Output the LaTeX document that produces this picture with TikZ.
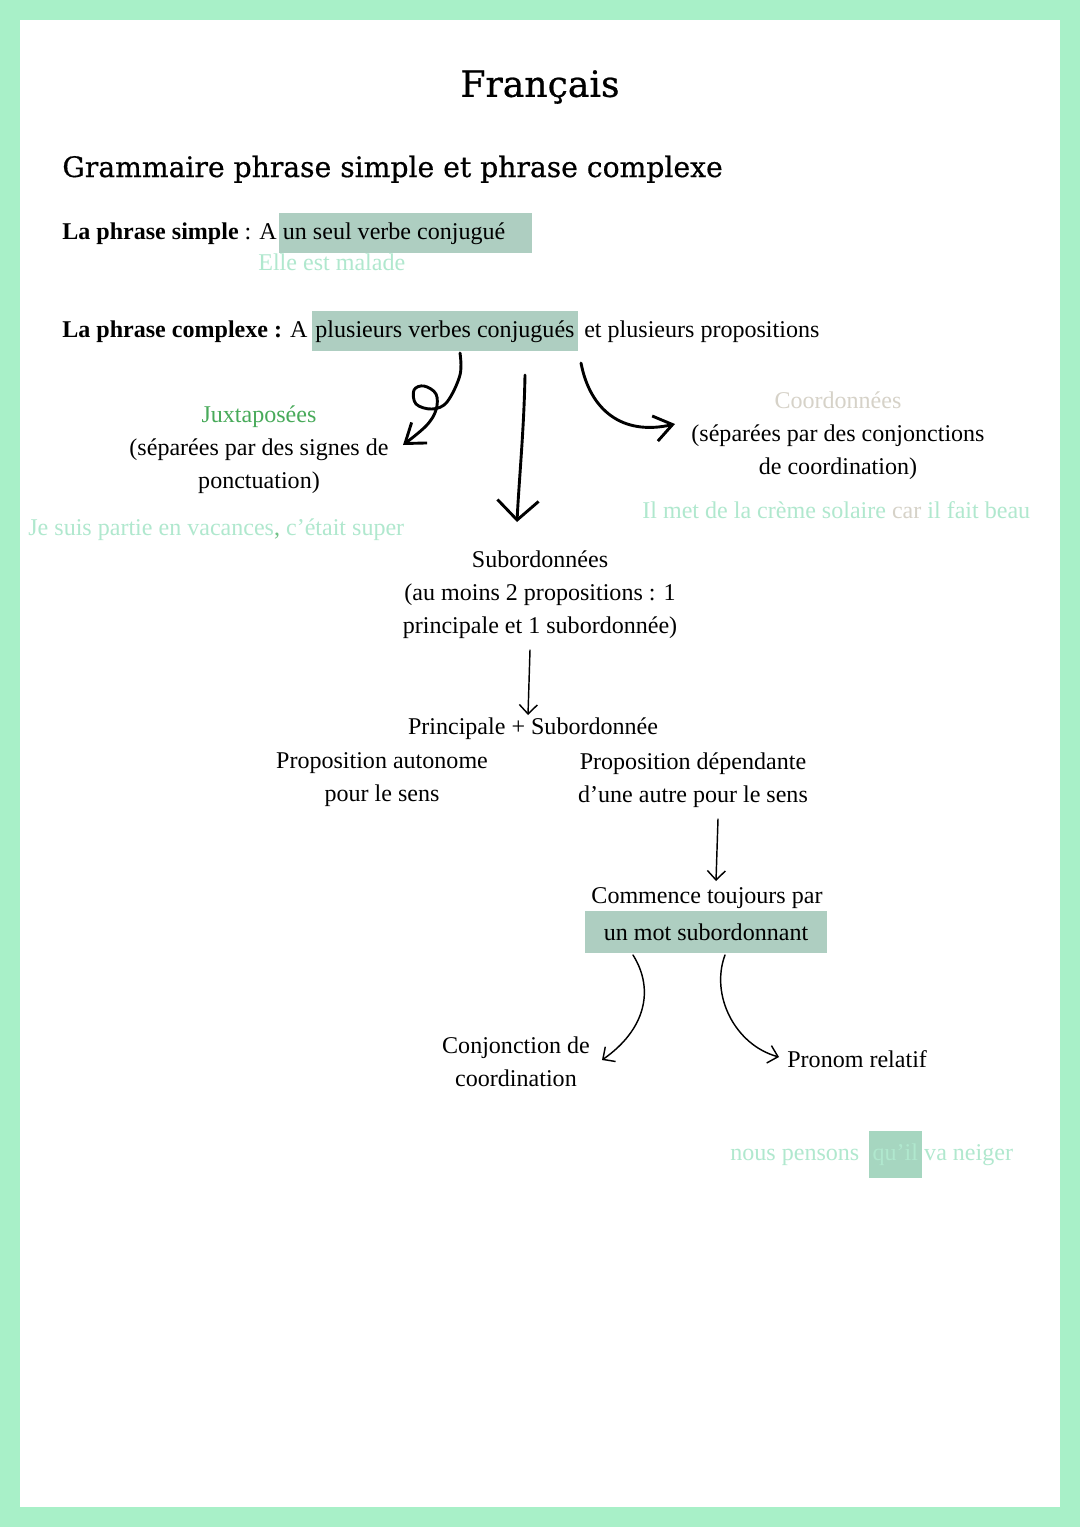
\documentclass[tikz,border=0pt]{standalone}
\usepackage{fontspec}
\setmainfont{Liberation Serif}
\newfontfamily\headfont[FakeBold=0.6]{DejaVu Serif}
\usetikzlibrary{arrows.meta,positioning}

\definecolor{pageframe}{RGB}{168,240,200}
\definecolor{hlgreen}{RGB}{174,206,193}
\definecolor{mint}{RGB}{176,232,206}
\definecolor{juxgreen}{RGB}{72,170,90}
\definecolor{coordgray}{RGB}{214,210,200}
\definecolor{quilhl}{RGB}{166,214,192}
\newcommand\bodyfont{\fontsize{13.3}{18.2}\selectfont}

\begin{document}
\begin{tikzpicture}[
  x=0.019444cm, y=-0.019444cm,
  every node/.style={font=\bodyfont, inner sep=0pt},
  bloc/.style={align=center},
  hl/.style={fill=hlgreen, inner xsep=2pt, inner ysep=5pt},
  exemple/.style={text=mint},
  bigarrow/.style={line width=1.6pt, line cap=round, -{Straight Barb[length=3.5mm,width=5mm]}},
  thinarrow/.style={line width=0.8pt, line cap=round, -{Straight Barb[length=1.8mm,width=3.5mm]}}
]

% page
\fill[pageframe] (0,0) rectangle (1080,1527);
\fill[white] (20,20) rectangle (1060,1507);

% titres
\node[font=\headfont\fontsize{20}{24}\selectfont] (titre) at (540,87) {Français};
\node[font=\headfont\fontsize{15.6}{20}\selectfont, anchor=base west] (sujet) at (62,177) {Grammaire phrase simple et phrase complexe};

% phrase simple
\node[anchor=base west] (simple) at (62,239) {\textbf{La phrase simple} : A};
\node[hl, anchor=base west, xshift=1pt] (seul) at (simple.base east) {un seul verbe conjugué\rule{13pt}{0pt}};
\node[exemple, anchor=base west] (malade) at (258,270) {Elle est malade};

% phrase complexe
\node[anchor=base west] (complexe) at (62,337) {\textbf{La phrase complexe :} A};
\node[hl, anchor=base west, xshift=2pt] (verbes) at (complexe.base east) {plusieurs verbes conjugués};
\node[anchor=base west, xshift=3pt] (props) at (verbes.base east) {et plusieurs propositions};

% juxtaposees
\node[bloc] (juxta) at (259,450) {\textcolor{juxgreen}{Juxtaposées}\\(séparées par des signes de\\ponctuation)};
\node[exemple, anchor=base west] (vacances) at (28,535) {Je suis partie en vacances\textcolor{juxgreen!60!mint}{,} c'était super};

% coordonnees
\node[bloc] (coord) at (838,436) {\textcolor{coordgray}{Coordonnées}\\(séparées par des conjonctions\\de coordination)};
\node[exemple, anchor=base west] (creme) at (642,518) {Il met de la crème solaire \textcolor{coordgray}{car} il fait beau};

% subordonnees
\node[bloc] (subord) at (540,595) {Subordonnées\\(au moins 2 propositions : 1\\principale et 1 subordonnée)};
\node (princ) at (533,729) {Principale + Subordonnée};
\node[bloc] (autonome) at (382,780) {Proposition autonome\\pour le sens};
\node[bloc] (dependante) at (693,780) {Proposition dépendante\\d'une autre pour le sens};
\node (commence) at (707,898) {Commence toujours par};
\node[hl, minimum width=4.72cm, minimum height=0.8cm] (motsub) at (706,932) {un mot subordonnant};
\node[bloc] (conj) at (516,1062) {Conjonction de\\coordination};
\node[anchor=west] (pronom) at (787,1059) {Pronom relatif};

% exemple subordonnee
\node[exemple, anchor=base west] (pensons) at (730,1160) {nous pensons};
\node[hl, fill=quilhl, exemple, anchor=base west, xshift=5pt, inner ysep=7pt] (quil) at (pensons.base east) {qu'il};
\node[exemple, anchor=base west, xshift=1pt] (neiger) at (quil.base east) {va neiger};

% fleches
\coordinate (jx0) at (460,353);
\coordinate (jx1) at (403,445);
\draw[bigarrow] plot[smooth, tension=0.6] coordinates {(jx0) (460,375) (447,402) (432,409) (416,404) (414,390) (424,386) (436,394) (436,410) (426,426) (jx1)};
\coordinate (sb0) at (525,375);
\coordinate (sb1) at (517,522);
\draw[bigarrow, -{Straight Barb[length=3.8mm,width=8mm]}] (sb0) .. controls (524,430) and (519,480) .. (sb1);
\coordinate (co0) at (581,363);
\coordinate (co1) at (675,424);
\draw[bigarrow] (co0) .. controls (590,410) and (622,436) .. (co1);
\coordinate (pr0) at (530,650);
\coordinate (pr1) at (528,715);
\draw[thinarrow] (pr0) -- (pr1);
\coordinate (dp0) at (718,819);
\coordinate (dp1) at (716,881);
\draw[thinarrow] (dp0) -- (dp1);
\coordinate (cj0) at (633,955);
\coordinate (cj1) at (602,1060);
\draw[thinarrow] (cj0) .. controls (655,990) and (645,1030) .. (cj1);
\coordinate (pn0) at (725,955);
\coordinate (pn1) at (779,1057);
\draw[thinarrow] (pn0) .. controls (710,995) and (735,1045) .. (pn1);

\end{tikzpicture}
\end{document}
